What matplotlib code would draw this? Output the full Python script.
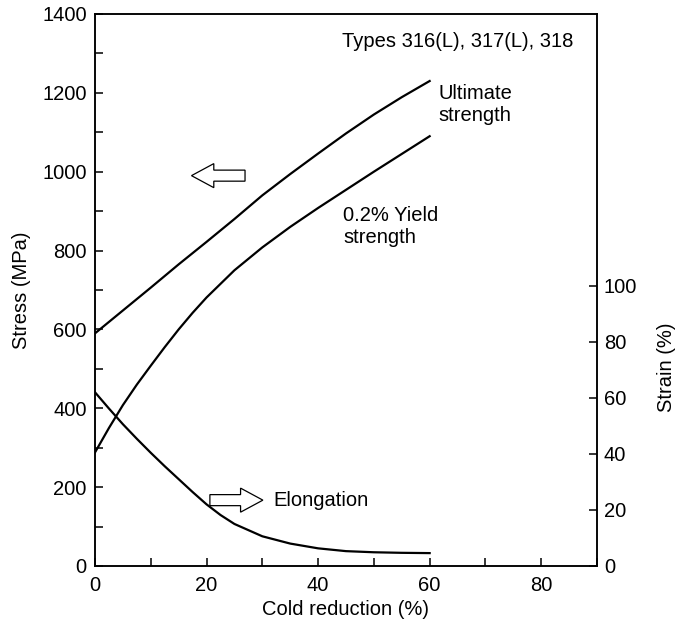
import matplotlib
matplotlib.use("Agg")
from matplotlib import pyplot as plt
from matplotlib.patches import FancyArrow
from matplotlib.ticker import MultipleLocator

plt.rcParams["font.family"] = ["Liberation Sans", "DejaVu Sans"]
plt.rcParams["font.size"] = 14.5

# cold reduction (%) and stress (MPa)
red_ult = [0, 5, 10, 15, 20, 25, 30, 35, 40, 45, 50, 55, 60]
ultimate = [590, 648, 706, 765, 822, 880, 940, 994, 1046, 1097, 1145, 1189, 1230]

red_yield = [0, 2.5, 5, 7.5, 10, 12.5, 15, 17.5, 20, 25, 30, 35, 40, 45, 50, 55, 60]
yield_02 = [288, 350, 408, 460, 508, 555, 600, 642, 681, 750, 808, 860, 908, 954, 1000, 1045, 1090]

# strain (%)
red_elong = [0, 2.5, 5, 7.5, 10, 12.5, 15, 17.5, 20, 22.5, 25, 30, 35, 40, 45, 50, 55, 60]
elongation = [62.0, 56.2, 50.6, 45.4, 40.4, 35.6, 31.0, 26.4, 22.0, 18.2, 15.0, 10.6, 8.0, 6.3, 5.3, 4.9, 4.7, 4.6]

fig = plt.figure(figsize=(6.79, 6.27), dpi=100)
ax = fig.add_axes([0.1399, 0.0973, 0.7393, 0.8804])
ax2 = ax.twinx()

lw = 1.6
ax.plot(red_ult, ultimate, color="black", lw=lw)
ax.plot(red_yield, yield_02, color="black", lw=lw)
ax2.plot(red_elong, elongation, color="black", lw=lw)

ax.set_xlim(0, 90)
ax.set_ylim(0, 1400)
ax2.set_ylim(0, 197)

ax.xaxis.set_major_locator(MultipleLocator(20))
ax.xaxis.set_minor_locator(MultipleLocator(10))
ax.yaxis.set_major_locator(MultipleLocator(200))
ax.yaxis.set_minor_locator(MultipleLocator(100))
ax2.set_yticks([0, 20, 40, 60, 80, 100])

for a in (ax, ax2):
    for s in a.spines.values():
        s.set_linewidth(1.1)
ax.tick_params(which="both", direction="in", length=6, width=1.1)
ax.tick_params(axis="y", pad=6)
ax.tick_params(axis="x", pad=7)
ax2.tick_params(direction="in", length=6, width=1.1, pad=5)

ax.set_xlabel("Cold reduction (%)", labelpad=4)
ax.set_ylabel("Stress (MPa)", labelpad=8)
fig.text(667 / 679, 1 - 367 / 627, "Strain (%)", rotation=90,
         ha="center", va="center")

# hollow arrows pointing to the axis each curve uses
ax.add_patch(FancyArrow(26.9, 990, -9.6, 0, width=28, head_width=61,
                        head_length=4.0, length_includes_head=True,
                        facecolor="white", edgecolor="black", lw=0.9))
ax.add_patch(FancyArrow(20.6, 167, 9.5, 0, width=28, head_width=61,
                        head_length=4.0, length_includes_head=True,
                        facecolor="white", edgecolor="black", lw=0.9))

ax.text(31.9, 167, "Elongation", va="center", ha="left")
ax.text(61.5, 1170, "Ultimate\nstrength", va="center", ha="left", linespacing=1.2)
ax.text(44.5, 860, "0.2% Yield\nstrength", va="center", ha="left", linespacing=1.2)
ax.text(85.8, 1330, "Types 316(L), 317(L), 318", va="center", ha="right")

fig.savefig("out.png", dpi=100)
